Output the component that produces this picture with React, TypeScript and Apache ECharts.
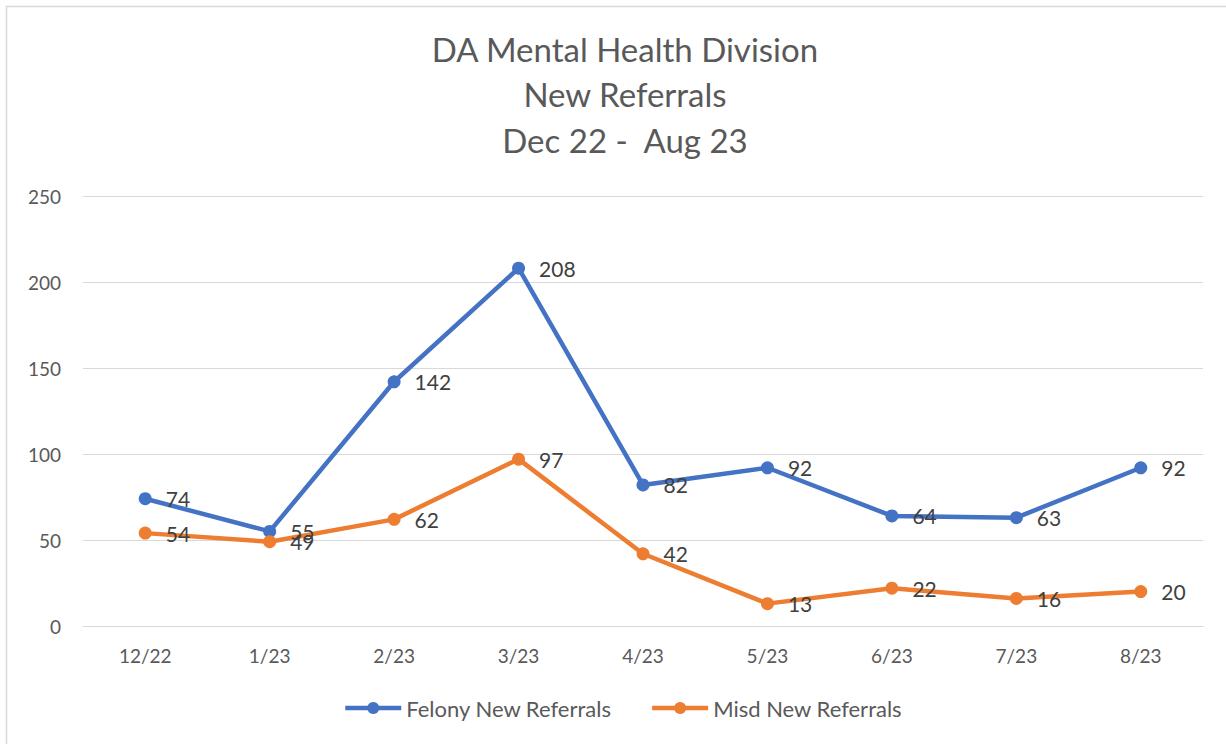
import React, { useEffect, useRef } from "react";
import * as echarts from "echarts";

const titleLines = ["DA Mental Health Division", "New Referrals", "Dec 22 -  Aug 23"];
const categories = ["12/22", "1/23", "2/23", "3/23", "4/23", "5/23", "6/23", "7/23", "8/23"];
const felonyName = "Felony New Referrals";
const misdName = "Misd New Referrals";
const felony = [74, 55, 142, 208, 82, 92, 64, 63, 92];
const misd = [54, 49, 62, 97, 42, 13, 22, 16, 20];

const FONT = "Lato, 'Open Sans', sans-serif";

export default function App() {
  const ref = useRef<HTMLDivElement>(null);
  useEffect(() => {
    if (!ref.current) return;
    const chart = echarts.init(ref.current, undefined, { renderer: "svg" });
    const labelStyle = {
      show: true,
      position: "right" as const,
      distance: 14,
      fontSize: 21,
      color: "#404040",
      fontFamily: FONT,
    };
    chart.setOption({
      animation: false,
      backgroundColor: "#ffffff",
      title: {
        text: titleLines.join("\n"),
        left: 620,
        textAlign: "center",
        top: 21,
        textStyle: {
          fontSize: 33,
          fontWeight: "normal",
          color: "#595959",
          fontFamily: FONT,
          lineHeight: 45.5,
        },
      },
      graphic: [
        {
          type: "rect",
          shape: { x: 6.5, y: 6.5, width: 1225, height: 800 },
          style: { fill: "none", stroke: "#D9D9D9", lineWidth: 1.5 },
          silent: true,
        },
      ],
      legend: {
        bottom: 20,
        left: 338,
        itemWidth: 56,
        itemHeight: 15,
        itemGap: 38,
        itemTextGap: 5,
        lineStyle: { width: 4.5 },
        textStyle: { fontSize: 22, color: "#595959", fontFamily: FONT },
        data: [felonyName, misdName],
      },
      grid: { left: 83, right: 23, top: 196, bottom: 118 },
      xAxis: {
        type: "category",
        data: categories,
        boundaryGap: true,
        axisLine: { lineStyle: { color: "#D9D9D9", width: 1 } },
        axisTick: { show: false },
        axisLabel: { fontSize: 19, color: "#595959", fontFamily: FONT, margin: 20 },
      },
      yAxis: {
        type: "value",
        min: 0,
        max: 250,
        interval: 50,
        axisLine: { show: false },
        axisTick: { show: false },
        splitLine: { lineStyle: { color: "#D9D9D9", width: 1 } },
        axisLabel: { fontSize: 19, color: "#595959", fontFamily: FONT, margin: 22 },
      },
      series: [
        {
          name: felonyName,
          type: "line",
          data: felony,
          symbol: "circle",
          symbolSize: 13,
          lineStyle: { width: 4.5, color: "#4472C4" },
          itemStyle: { color: "#4472C4" },
          label: labelStyle,
        },
        {
          name: misdName,
          type: "line",
          data: misd,
          symbol: "circle",
          symbolSize: 13,
          lineStyle: { width: 4.5, color: "#ED7D31" },
          itemStyle: { color: "#ED7D31" },
          label: labelStyle,
        },
      ],
    });
    return () => chart.dispose();
  }, []);
  return (
    <div
      ref={ref}
      style={{ position: "fixed", left: 0, top: 0, width: 1226, height: 744 }}
    />
  );
}
